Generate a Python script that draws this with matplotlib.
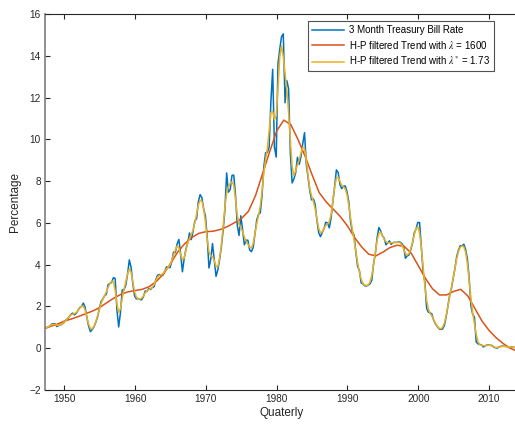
import numpy as np
import matplotlib
matplotlib.use("Agg")
import matplotlib.pyplot as plt

plt.rcParams['font.family'] = ['Liberation Sans', 'DejaVu Sans']
plt.rcParams['mathtext.fontset'] = 'stix'

# quarterly 3 month T-bill rate, 1948Q1 .. 2014Q2 (as plotted)
first_x = 1947.43
tbill = [
    0.98, 1.00, 1.05, 1.15, 1.17, 1.17, 1.04, 1.08,
    1.11, 1.16, 1.22, 1.34, 1.40, 1.51, 1.62, 1.68,
    1.60, 1.67, 1.81, 1.95, 2.00, 2.16, 1.97, 1.48,
    1.06, 0.79, 0.89, 1.02, 1.23, 1.48, 1.86, 2.23,
    2.35, 2.51, 2.58, 3.04, 3.10, 3.15, 3.38, 3.34,
    1.84, 1.02, 1.71, 2.79, 2.80, 3.02, 3.54, 4.23,
    3.87, 3.07, 2.49, 2.36, 2.38, 2.33, 2.32, 2.48,
    2.74, 2.72, 2.86, 2.81, 2.91, 2.94, 3.29, 3.50,
    3.53, 3.48, 3.50, 3.68, 3.89, 3.87, 3.86, 4.16,
    4.60, 4.58, 4.99, 5.21, 4.51, 3.66, 4.30, 4.75,
    5.05, 5.52, 5.20, 5.58, 6.09, 6.20, 7.02, 7.35,
    7.21, 6.67, 6.33, 5.35, 3.84, 4.25, 5.01, 4.23,
    3.44, 3.75, 4.24, 4.85, 5.64, 6.61, 8.39, 7.47,
    7.60, 8.27, 8.29, 7.34, 5.88, 5.40, 6.34, 5.68,
    4.95, 5.17, 5.17, 4.70, 4.62, 4.83, 5.47, 6.14,
    6.41, 6.48, 7.32, 8.68, 9.36, 9.37, 9.63, 11.80,
    13.35, 9.62, 9.15, 13.61, 14.31, 14.91, 15.05, 11.75,
    12.81, 12.42, 9.32, 7.91, 8.11, 8.40, 9.14, 8.80,
    9.17, 9.80, 10.32, 8.80, 8.18, 7.52, 7.10, 7.15,
    6.89, 6.13, 5.53, 5.34, 5.53, 5.73, 6.03, 6.00,
    5.76, 6.23, 7.01, 7.73, 8.54, 8.41, 7.85, 7.64,
    7.76, 7.77, 7.49, 7.02, 6.05, 5.59, 5.41, 4.58,
    3.91, 3.72, 3.13, 3.08, 2.99, 2.98, 3.02, 3.08,
    3.25, 4.04, 4.51, 5.28, 5.78, 5.62, 5.38, 5.27,
    4.95, 5.04, 5.14, 4.97, 5.06, 5.07, 5.06, 5.09,
    5.08, 5.01, 4.88, 4.31, 4.42, 4.46, 4.70, 5.02,
    5.52, 5.71, 6.02, 6.02, 4.82, 3.66, 3.17, 1.91,
    1.72, 1.70, 1.63, 1.33, 1.16, 1.04, 0.93, 0.90,
    0.92, 1.08, 1.49, 2.01, 2.54, 2.86, 3.36, 3.83,
    4.40, 4.70, 4.91, 4.90, 4.98, 4.74, 4.30, 3.39,
    2.04, 1.63, 1.49, 0.30, 0.21, 0.18, 0.16, 0.06,
    0.11, 0.15, 0.16, 0.14, 0.13, 0.05, 0.02, 0.01,
    0.07, 0.09, 0.10, 0.09, 0.09, 0.05, 0.03, 0.06,
    0.05, 0.03,
]

# H-P trend with lambda* = 1.73
trend_small = [
    0.99, 1.01, 1.07, 1.12, 1.14, 1.13, 1.10, 1.09,
    1.12, 1.17, 1.24, 1.32, 1.42, 1.51, 1.59, 1.63,
    1.66, 1.71, 1.81, 1.92, 2.02, 2.01, 1.83, 1.50,
    1.15, 0.95, 0.93, 1.05, 1.26, 1.54, 1.84, 2.13,
    2.34, 2.51, 2.70, 2.91, 3.08, 3.22, 3.18, 2.77,
    2.11, 1.72, 1.89, 2.39, 2.82, 3.19, 3.56, 3.79,
    3.63, 3.17, 2.70, 2.44, 2.36, 2.35, 2.40, 2.51,
    2.65, 2.75, 2.81, 2.85, 2.92, 3.05, 3.24, 3.41,
    3.49, 3.52, 3.57, 3.69, 3.80, 3.88, 4.00, 4.20,
    4.45, 4.71, 4.89, 4.80, 4.49, 4.24, 4.32, 4.68,
    5.05, 5.26, 5.44, 5.65, 5.99, 6.43, 6.85, 7.09,
    7.04, 6.69, 6.04, 5.22, 4.62, 4.42, 4.39, 4.19,
    3.91, 3.91, 4.30, 4.93, 5.81, 6.75, 7.43, 7.74,
    7.88, 7.97, 7.81, 7.13, 6.36, 5.93, 5.78, 5.59,
    5.33, 5.11, 4.98, 4.84, 4.80, 5.02, 5.48, 5.96,
    6.35, 6.82, 7.54, 8.39, 9.04, 9.57, 10.43, 11.28,
    11.35, 10.94, 11.14, 12.42, 13.96, 14.47, 13.96, 13.18,
    12.36, 11.29, 9.93, 8.70, 8.28, 8.49, 8.79, 9.02,
    9.35, 9.62, 9.56, 9.01, 8.26, 7.64, 7.29, 7.02,
    6.67, 6.19, 5.74, 5.52, 5.57, 5.75, 5.88, 5.94,
    6.06, 6.40, 7.02, 7.70, 8.14, 8.19, 7.99, 7.80,
    7.72, 7.63, 7.35, 6.84, 6.25, 5.70, 5.17, 4.63,
    4.09, 3.63, 3.31, 3.11, 3.02, 3.01, 3.03, 3.17,
    3.48, 3.98, 4.59, 5.15, 5.49, 5.56, 5.41, 5.22,
    5.10, 5.05, 5.05, 5.05, 5.05, 5.06, 5.07, 5.07,
    5.05, 4.94, 4.75, 4.54, 4.46, 4.53, 4.76, 5.07,
    5.42, 5.73, 5.82, 5.51, 4.81, 3.88, 2.98, 2.29,
    1.87, 1.66, 1.54, 1.37, 1.19, 1.05, 0.96, 0.93,
    1.00, 1.20, 1.55, 2.01, 2.47, 2.91, 3.37, 3.85,
    4.29, 4.63, 4.83, 4.90, 4.85, 4.61, 4.06, 3.25,
    2.42, 1.72, 1.16, 0.67, 0.32, 0.17, 0.14, 0.12,
    0.12, 0.13, 0.15, 0.14, 0.10, 0.07, 0.04, 0.04,
    0.06, 0.08, 0.09, 0.09, 0.08, 0.06, 0.05, 0.05,
    0.05, 0.04,
]

# H-P trend with lambda = 1600
trend_x = [1947.43, 1949, 1950, 1951, 1952, 1953, 1954, 1955, 1956, 1957,
           1958, 1959, 1960, 1961, 1962, 1963, 1964, 1965, 1966, 1967,
           1968, 1969, 1970, 1971, 1972, 1973, 1974, 1975, 1976, 1977,
           1978, 1979, 1980, 1981, 1982, 1983, 1984, 1985, 1986, 1987,
           1988, 1989, 1990, 1991, 1992, 1993, 1994, 1995, 1996, 1997,
           1998, 1999, 2000, 2001, 2002, 2003, 2004, 2005, 2006, 2007,
           2008, 2009, 2010, 2011, 2012, 2013, 2013.68]
trend_big = [0.98, 1.15, 1.30, 1.40, 1.52, 1.65, 1.78, 1.95, 2.18, 2.40,
             2.58, 2.70, 2.76, 2.82, 2.95, 3.20, 3.55, 4.05, 4.60, 5.00,
             5.30, 5.50, 5.58, 5.60, 5.68, 5.82, 6.00, 6.20, 6.55, 7.30,
             8.35, 9.40, 10.40, 10.92, 10.70, 10.00, 9.20, 8.30, 7.45, 7.00,
             6.65, 6.30, 5.85, 5.30, 4.85, 4.50, 4.42, 4.60, 4.82, 4.93,
             4.88, 4.55, 3.95, 3.35, 2.85, 2.55, 2.55, 2.72, 2.82, 2.50,
             1.90, 1.30, 0.85, 0.50, 0.22, 0.00, -0.10]

labels = ['3 Month Treasury Bill Rate',
          r'H-P filtered Trend with $\lambda$ = 1600',
          r'H-P filtered Trend with $\lambda^{*}$ = 1.73']
colors = ['#0072BD', '#D95319', '#EDB120']

xq = first_x + 0.25 * np.arange(len(tbill))

fig = plt.figure(figsize=(5.15, 4.24), dpi=100)
ax = fig.add_axes([45 / 515, 34 / 424, 472.4 / 515, 376 / 424])

ax.plot(xq, tbill, color=colors[0], lw=1.1, label=labels[0])
ax.plot(trend_x, trend_big, color=colors[1], lw=1.1, label=labels[1])
ax.plot(xq, trend_small, color=colors[2], lw=1.1, label=labels[2])

ax.set_xlim(1947.27, 2014.0)
ax.set_ylim(-2, 16)
ax.set_xticks(np.arange(1950, 2011, 10))
ax.set_yticks(np.arange(-2, 17, 2))

for s in ax.spines.values():
    s.set_color('0.15')
    s.set_linewidth(0.8)
ax.spines['left'].set_color('0.45')
ax.spines['left'].set_linewidth(1.1)
ax.tick_params(direction='in', length=3.6, width=0.8, colors='0.15',
               labelsize=7.2, top=True, right=False, labelcolor='0.15', pad=3)

ax.set_xlabel('Quaterly', fontsize=8.5, color='0.15', labelpad=2)
ax.set_ylabel('Percentage', fontsize=8.5, color='0.15', labelpad=6)

leg = ax.legend(loc='upper right', bbox_to_anchor=(494 / 515, 1 - 21 / 424),
                bbox_transform=fig.transFigure, borderaxespad=0,
                fontsize=7, fancybox=False, frameon=True, edgecolor='0.15',
                handlelength=3.3, handletextpad=0.45, borderpad=0.45,
                labelspacing=0.35)
leg.get_frame().set_linewidth(0.8)

fig.savefig('out.png', dpi=100)
